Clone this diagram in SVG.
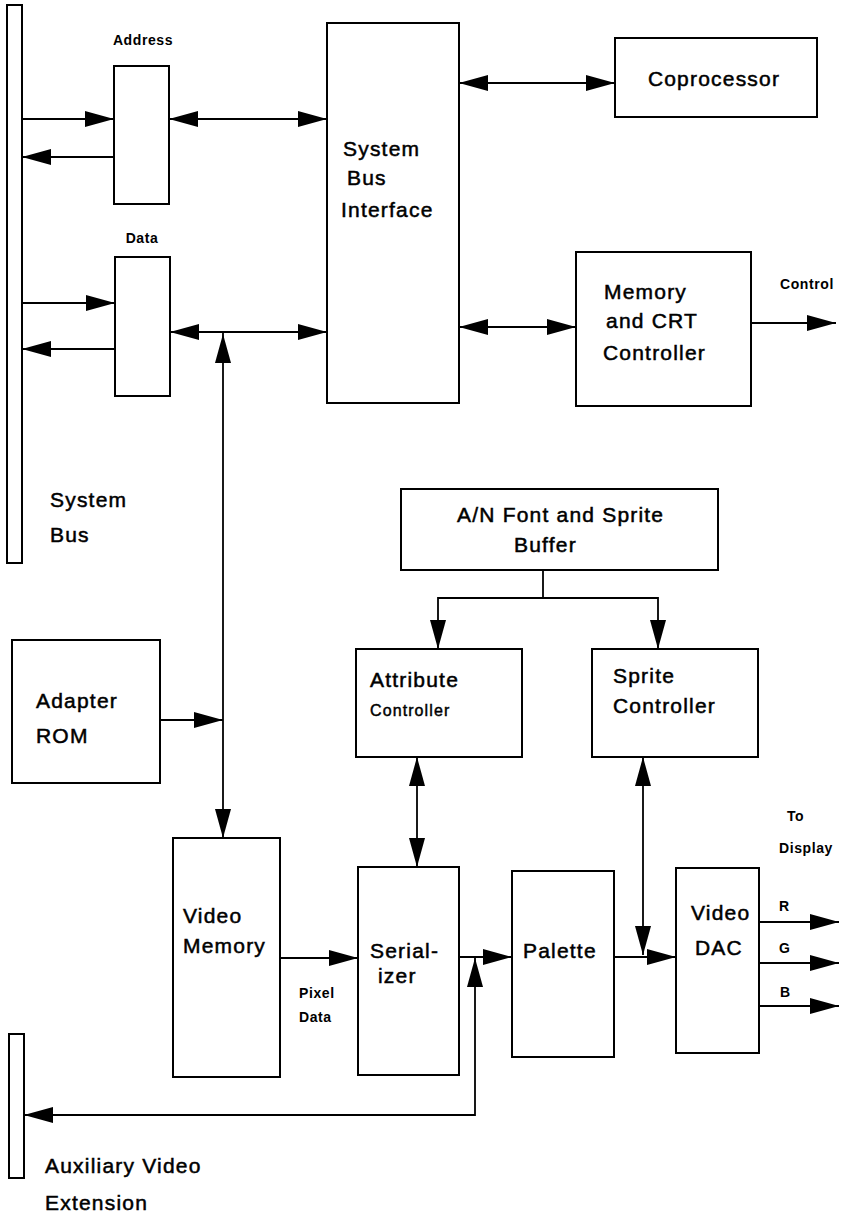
<svg xmlns="http://www.w3.org/2000/svg" width="845" height="1220" viewBox="0 0 845 1220">
<style>
.box{fill:#fff;stroke:#000;stroke-width:2}
.bar{fill:#fff;stroke:#000;stroke-width:2}
.t{font-family:"Liberation Sans",Arial,sans-serif;font-size:21px;letter-spacing:1.2px;fill:#000;stroke:#000;stroke-width:0.5}
.m{font-family:"Liberation Sans",Arial,sans-serif;font-size:16px;letter-spacing:1.1px;fill:#000;stroke:#000;stroke-width:0.45}
.s{font-family:"Liberation Sans",Arial,sans-serif;font-size:14px;font-weight:bold;letter-spacing:0.6px;fill:#000}
.c{fill:none;stroke:#000;stroke-width:1.8}
.a1{marker-end:url(#ah)}
.a2{marker-start:url(#ah);marker-end:url(#ah)}
</style>
<defs>
<marker id="ah" markerUnits="userSpaceOnUse" markerWidth="31" markerHeight="18" refX="29" refY="8" orient="auto-start-reverse">
<path d="M0,0 L29,8 L0,16 Z" fill="#000"/>
</marker>
</defs>

<g id="system-bus">
<rect class="bar" x="7" y="5" width="15" height="558"/>
<text class="t" x="50" y="507">System</text>
<text class="t" x="50" y="542">Bus</text>
</g>
<g id="address">
<text class="s" x="143" y="45" text-anchor="middle">Address</text>
<rect class="box" x="114" y="66" width="55" height="138"/>
</g>
<g id="data">
<text class="s" x="142" y="243" text-anchor="middle">Data</text>
<rect class="box" x="115" y="257" width="55" height="139"/>
</g>
<g id="system-bus-interface">
<rect class="box" x="327" y="23" width="132" height="380"/>
<text class="t" x="343" y="156">System</text>
<text class="t" x="347" y="185">Bus</text>
<text class="t" x="341" y="217">Interface</text>
</g>
<g id="coprocessor">
<rect class="box" x="615" y="38" width="202" height="79"/>
<text class="t" x="714" y="86" text-anchor="middle">Coprocessor</text>
</g>
<g id="memory-crt-controller">
<rect class="box" x="576" y="252" width="175" height="154"/>
<text class="t" x="604" y="299">Memory</text>
<text class="t" x="606" y="328">and CRT</text>
<text class="t" x="603" y="360">Controller</text>
</g>
<g id="control-label">
<text class="s" x="780" y="289">Control</text>
</g>
<g id="an-font-sprite-buffer">
<rect class="box" x="401" y="489" width="317" height="81"/>
<text class="t" x="457" y="522">A/N Font and Sprite</text>
<text class="t" x="514" y="552">Buffer</text>
</g>
<g id="adapter-rom">
<rect class="box" x="12" y="640" width="148" height="143"/>
<text class="t" x="36" y="708">Adapter</text>
<text class="t" x="36" y="743">ROM</text>
</g>
<g id="attribute-controller">
<rect class="box" x="356" y="649" width="166" height="108"/>
<text class="t" x="370" y="687">Attribute</text>
<text class="m" x="370" y="716">Controller</text>
</g>
<g id="sprite-controller">
<rect class="box" x="592" y="649" width="166" height="108"/>
<text class="t" x="613" y="683">Sprite</text>
<text class="t" x="613" y="713">Controller</text>
</g>
<g id="video-memory">
<rect class="box" x="173" y="838" width="107" height="239"/>
<text class="t" x="183" y="923">Video</text>
<text class="t" x="183" y="953">Memory</text>
</g>
<g id="pixel-data-label">
<text class="s" x="299" y="998">Pixel</text>
<text class="s" x="299" y="1022">Data</text>
</g>
<g id="serializer">
<rect class="box" x="358" y="867" width="101" height="208"/>
<text class="t" x="370" y="958">Serial-</text>
<text class="t" x="378" y="983">izer</text>
</g>
<g id="palette">
<rect class="box" x="512" y="871" width="102" height="186"/>
<text class="t" x="523" y="958">Palette</text>
</g>
<g id="video-dac">
<rect class="box" x="676" y="868" width="83" height="185"/>
<text class="t" x="691" y="920">Video</text>
<text class="t" x="695" y="955">DAC</text>
</g>
<g id="to-display">
<text class="s" x="787" y="821">To</text>
<text class="s" x="779" y="853">Display</text>
<text class="s" x="779" y="911">R</text>
<text class="s" x="779" y="953">G</text>
<text class="s" x="780" y="997">B</text>
</g>
<g id="auxiliary-video-extension">
<rect class="bar" x="9" y="1034" width="15" height="144"/>
<text class="t" x="45" y="1173">Auxiliary Video</text>
<text class="t" x="45" y="1210">Extension</text>
</g>

<g id="connectors">
<line class="c a1" x1="22" y1="119" x2="114" y2="119"/>
<line class="c a1" x1="114" y1="157" x2="22" y2="157"/>
<line class="c a2" x1="169" y1="119" x2="327" y2="119"/>
<line class="c a1" x1="22" y1="303" x2="115" y2="303"/>
<line class="c a1" x1="115" y1="349" x2="22" y2="349"/>
<line class="c a2" x1="170" y1="332" x2="327" y2="332"/>
<line class="c a2" x1="223" y1="838" x2="223" y2="334"/>
<line class="c" x1="223" y1="334" x2="223" y2="332"/>
<line class="c a1" x1="160" y1="720" x2="223" y2="720"/>
<line class="c a2" x1="459" y1="83" x2="615" y2="83"/>
<line class="c a2" x1="459" y1="327" x2="576" y2="327"/>
<line class="c a1" x1="751" y1="323" x2="836" y2="323"/>
<line class="c" x1="543" y1="570" x2="543" y2="598"/>
<path class="c a2" d="M438,649 V598 H658 V649"/>
<line class="c a2" x1="417" y1="757" x2="417" y2="867"/>
<line class="c a2" x1="643" y1="757" x2="643" y2="955"/>
<line class="c a1" x1="280" y1="958" x2="358" y2="958"/>
<line class="c a1" x1="459" y1="957" x2="512" y2="957"/>
<path class="c a2" d="M475,958 V1115 H24"/>
<line class="c a1" x1="614" y1="957" x2="676" y2="957"/>
<line class="c a1" x1="759" y1="922" x2="839" y2="922"/>
<line class="c a1" x1="759" y1="963" x2="839" y2="963"/>
<line class="c a1" x1="759" y1="1006" x2="839" y2="1006"/>
</g>
</svg>
